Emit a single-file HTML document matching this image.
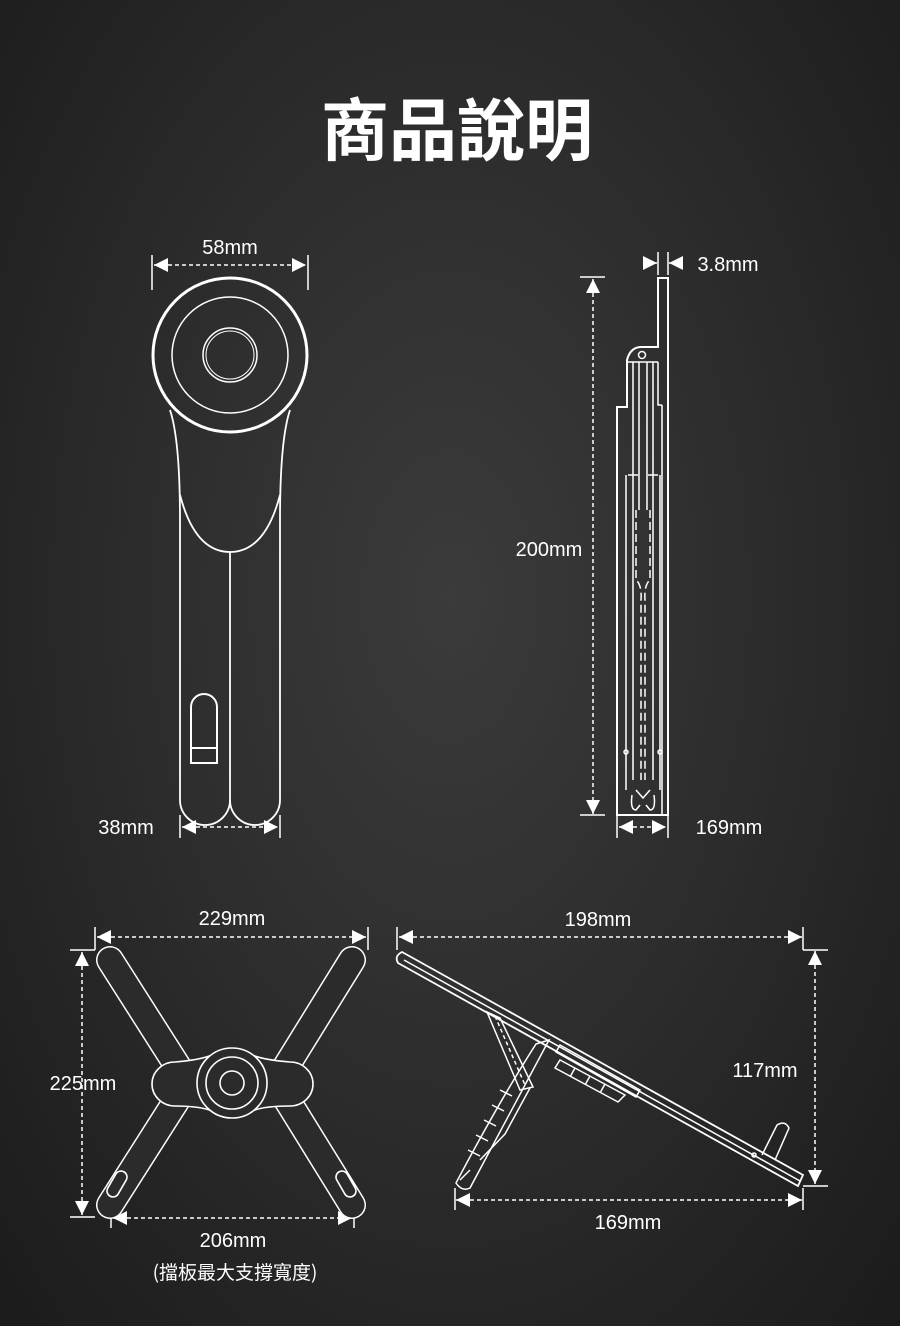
<!DOCTYPE html>
<html><head><meta charset="utf-8"><style>
html,body{margin:0;padding:0}
body{width:900px;height:1326px;overflow:hidden;background:radial-gradient(ellipse at 50% 45%,#3b3b3b 0%,#2c2c2c 50%,#1b1b1b 100%);font-family:"Liberation Sans","Noto Sans CJK TC",sans-serif}
svg{position:absolute;left:0;top:0}
</style></head><body>
<svg width="900" height="1326" viewBox="0 0 900 1326" xmlns="http://www.w3.org/2000/svg">
<defs>
<marker id="a" viewBox="0 0 10 10" refX="10" refY="5" markerWidth="14" markerHeight="14" markerUnits="userSpaceOnUse" orient="auto-start-reverse"><path d="M0,0L10,5L0,10z" fill="#fff"/></marker>
</defs>
<g font-family="Liberation Sans, Noto Sans CJK TC, sans-serif" fill="#fff">
<text x="457" y="155" font-size="68" font-weight="bold" text-anchor="middle" font-family="Noto Sans CJK TC, sans-serif">商品說明</text>
<g font-size="20" text-anchor="middle">
<text x="230" y="254">58mm</text>
<text x="126" y="834">38mm</text>
<text x="728" y="271">3.8mm</text>
<text x="549" y="556">200mm</text>
<text x="729" y="834">169mm</text>
<text x="232" y="925">229mm</text>
<text x="83" y="1090">225mm</text>
<text x="233" y="1247">206mm</text>
<text x="235" y="1279" font-family="Noto Sans CJK TC, sans-serif" font-size="19">(擋板最大支撐寬度)</text>
<text x="598" y="926">198mm</text>
<text x="765" y="1077">117mm</text>
<text x="628" y="1229">169mm</text>
</g>
</g>
<g stroke="#fff" fill="none" stroke-width="1.5">
<!-- dimension lines -->
<g stroke-dasharray="4,3">
<line x1="154" y1="265" x2="306" y2="265" marker-start="url(#a)" marker-end="url(#a)"/>
<line x1="182" y1="827" x2="278" y2="827" marker-start="url(#a)" marker-end="url(#a)"/>
<line x1="593" y1="279" x2="593" y2="814" marker-start="url(#a)" marker-end="url(#a)"/>
<line x1="619" y1="827" x2="666" y2="827" marker-start="url(#a)" marker-end="url(#a)"/>
<line x1="97" y1="937" x2="366" y2="937" marker-start="url(#a)" marker-end="url(#a)"/>
<line x1="82" y1="952" x2="82" y2="1215" marker-start="url(#a)" marker-end="url(#a)"/>
<line x1="113" y1="1218" x2="352" y2="1218" marker-start="url(#a)" marker-end="url(#a)"/>
<line x1="399" y1="937" x2="802" y2="937" marker-start="url(#a)" marker-end="url(#a)"/>
<line x1="815" y1="951" x2="815" y2="1184" marker-start="url(#a)" marker-end="url(#a)"/>
<line x1="456" y1="1200" x2="802" y2="1200" marker-start="url(#a)" marker-end="url(#a)"/>
</g>
<line x1="646" y1="263" x2="657" y2="263" marker-end="url(#a)"/>
<line x1="682" y1="263" x2="669" y2="263" marker-end="url(#a)"/>
<!-- ticks -->
<line x1="152" y1="255" x2="152" y2="290"/><line x1="308" y1="255" x2="308" y2="290"/>
<line x1="180" y1="815" x2="180" y2="838"/><line x1="280" y1="815" x2="280" y2="838"/>
<line x1="580" y1="277" x2="605" y2="277"/><line x1="580" y1="815" x2="605" y2="815"/>
<line x1="617" y1="815" x2="617" y2="838"/><line x1="668" y1="815" x2="668" y2="838"/>
<line x1="658" y1="252" x2="658" y2="275"/><line x1="668" y1="252" x2="668" y2="275"/>
<line x1="95" y1="927" x2="95" y2="950"/><line x1="368" y1="927" x2="368" y2="950"/>
<line x1="70" y1="950" x2="95" y2="950"/><line x1="70" y1="1217" x2="95" y2="1217"/>
<line x1="111" y1="1208" x2="111" y2="1228"/><line x1="354" y1="1208" x2="354" y2="1228"/>
<line x1="397" y1="927" x2="397" y2="950"/><line x1="803" y1="927" x2="803" y2="950"/>
<line x1="803" y1="950" x2="828" y2="950"/><line x1="803" y1="1186" x2="828" y2="1186"/>
<line x1="455" y1="1188" x2="455" y2="1210"/><line x1="803" y1="1188" x2="803" y2="1210"/>
</g>
<!-- top-left front view -->
<g stroke="#fff" fill="none">
<circle cx="230" cy="355" r="77" stroke-width="3"/>
<circle cx="230" cy="355" r="58" stroke-width="1.5"/>
<circle cx="230" cy="355" r="27" stroke-width="1.5"/>
<circle cx="230" cy="355" r="24" stroke-width="1"/>
<path d="M170,410 Q180,440 180,520 L180,800 A25,25 0 0 0 230,800 A25,25 0 0 0 280,800 L280,520 Q280,440 290,410" stroke-width="1.8"/>
<path d="M180,495 Q195,552 230,552 Q265,552 280,495" stroke-width="1.8"/>
<line x1="230" y1="552" x2="230" y2="805" stroke-width="1.8"/>
<path d="M191,763 L191,707 A13,13 0 0 1 217,707 L217,763 Z M191,748 L217,748" stroke-width="2"/>
</g>
<!-- top-right side view -->
<g stroke="#fff" fill="none" stroke-width="1.5">
<path d="M658,278 L668,278 L668,815 L617,815 L617,407 L627,407 L627,360 Q630,348 640,347 L658,347 Z" stroke-width="2"/>
<path d="M628,362 L658,362 M658,362 L658,405 L662,405"/>
<circle cx="642" cy="355" r="3.5"/>
<path d="M633,362 L633,780 M639,362 L639,510 M647,362 L647,510 M653,362 L653,780 M662,405 L662,815"/>
<path d="M626,475 L626,790 M660,475 L660,790 M628,475 L638,475 M648,475 L658,475"/>
<path d="M636,510 L636,580 Q642,585 641,600 L641,780 M650,510 L650,580 Q644,585 645,600 L645,780" stroke-dasharray="8,4"/>
<circle cx="626" cy="752" r="2"/><circle cx="660" cy="752" r="2"/>
<path d="M632,795 Q630,810 636,810 L640,805 M654,795 Q656,810 650,810 L646,805 M636,790 L643,798 L650,790"/>
</g>
<!-- bottom-left X view -->
<g stroke="#fff" fill="none" stroke-width="1.6">
<g stroke-linecap="round">
<line x1="110" y1="960" x2="180" y2="1070" stroke-width="28"/>
<line x1="110" y1="960" x2="180" y2="1070" stroke-width="25" stroke="#2b2b2b"/>
<line x1="352" y1="960" x2="284" y2="1070" stroke-width="28"/>
<line x1="352" y1="960" x2="284" y2="1070" stroke-width="25" stroke="#2b2b2b"/>
<line x1="110" y1="1205" x2="180" y2="1095" stroke-width="28"/>
<line x1="110" y1="1205" x2="180" y2="1095" stroke-width="25" stroke="#2b2b2b"/>
<line x1="352" y1="1205" x2="284" y2="1095" stroke-width="28"/>
<line x1="352" y1="1205" x2="284" y2="1095" stroke-width="25" stroke="#2b2b2b"/>
</g>
<path d="M175,1062 Q200,1060 212,1055 Q232,1048 252,1055 Q264,1060 290,1062 A23,22 0 0 1 290,1106 Q264,1106 252,1111 Q232,1118 212,1111 Q200,1106 175,1106 A23,22 0 0 1 175,1062 Z" fill="#2b2b2b"/>
<circle cx="232" cy="1083" r="35" fill="#2b2b2b"/>
<circle cx="232" cy="1083" r="26"/>
<circle cx="232" cy="1083" r="12"/>
<rect x="111" y="1170" width="12" height="28" rx="6" transform="rotate(30 117 1184)"/>
<rect x="340" y="1170" width="12" height="28" rx="6" transform="rotate(-30 346 1184)"/>
</g>
<!-- bottom-right side view -->
<g stroke="#fff" fill="none" stroke-width="1.5">
<path d="M402,952 L803,1175 L798,1186 L398,963 Q394,956 402,952 Z" stroke-width="1.8"/>
<path d="M404,960 L800,1181"/>
<path d="M487,1012 L520,1090 L533,1087 L500,1018 Z"/>
<path d="M495,1016 L525,1085" stroke-dasharray="4,3"/>
<path d="M536,1044 L549,1040 L470,1188 Q462,1192 456,1183 Q500,1100 536,1044 Z"/>
<path d="M530,1088 L505,1134 L480,1160 M470,1170 L460,1180"/>
<path d="M468,1150 l12,6 M476,1135 l12,6 M484,1120 l12,6 M492,1105 l12,6 M500,1090 l12,6"/>
<path d="M560,1045 L640,1090 L636,1097 L556,1052 Z"/>
<path d="M560,1060 L625,1095 L618,1102 L555,1068 Z M575,1068 l-5,9 M590,1076 l-5,9 M605,1084 l-5,9"/>
<path d="M762,1155 L777,1125 Q785,1120 789,1128 L775,1160"/>
<circle cx="754" cy="1155" r="2"/>
</g>
</svg>
</body></html>
